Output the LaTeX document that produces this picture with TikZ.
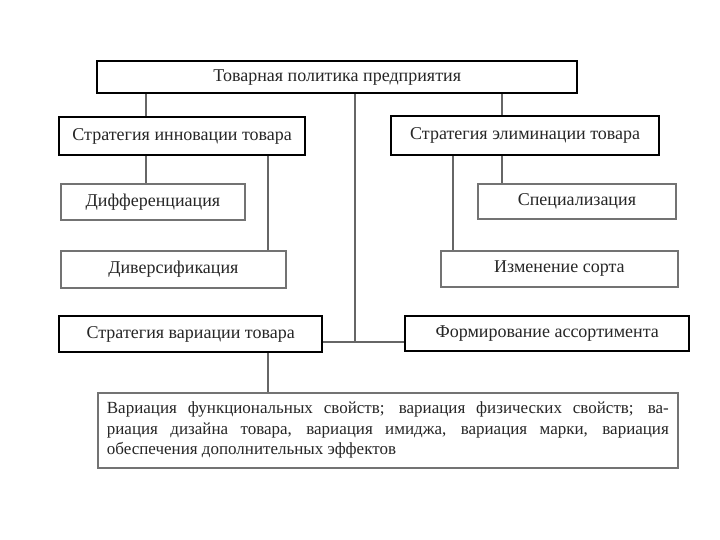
\documentclass[tikz,border=0pt]{standalone}
\usepackage{fontspec}
\setmainfont{Liberation Serif}
\usetikzlibrary{positioning}

\begin{document}
\begin{tikzpicture}[
  x=1pt, y=-1pt,
  % thick frames for the strategies, thin grey frames for what hangs below them
  box/.style={draw=black, line width=2.4pt, fill=white, anchor=north west,
              inner sep=0pt, font=\fontsize{18}{20}\selectfont, text=black!85},
  boxg/.style={box, draw=black!55, line width=1.8pt},
  link/.style={draw=black!60, line width=1.6pt}
]
\useasboundingbox (0,0) rectangle (720,540);

\node[box, minimum width=480pt, minimum height=32pt] (policy) at (96,60) {Товарная политика предприятия};
\node[box, minimum width=246pt, minimum height=38pt] (innov) at (58,116) {Стратегия инновации товара};
\node[box, minimum width=268pt, minimum height=39pt] (elim) at (390,115) {Стратегия элиминации товара};
\node[boxg, minimum width=184pt, minimum height=36pt] (diff) at (60,183) {Дифференциация};
\node[boxg, minimum width=198pt, minimum height=35pt] (spec) at (477,183) {Специализация};
\node[boxg, minimum width=225pt, minimum height=37pt] (divers) at (60,250) {Диверсификация};
\node[boxg, minimum width=237pt, minimum height=36pt] (sort) at (440,250) {Изменение сорта};
\node[box, minimum width=263pt, minimum height=36pt] (var) at (58,315) {Стратегия вариации товара};
\node[box, minimum width=284pt, minimum height=35pt] (assort) at (404,315) {Формирование ассортимента};
\node[boxg, text width=562pt, inner xsep=9pt, inner ysep=8pt, minimum height=75pt,
      align=justify, font=\fontsize{17}{20.5}\selectfont] (detail) at (97,392)
  {Вариация функциональных свойств; вариация физических свойств; ва-\linebreak
   риация дизайна товара, вариация имиджа, вариация марки, вариация\linebreak
   обеспечения дополнительных эффектов};

\coordinate (hub) at (355,342);
\draw[link] (policy.south -| hub) -- (hub);
\draw[link] (var.east |- hub) -- (assort.west |- hub);
\foreach \a/\b/\x in {policy/innov/146, policy/elim/502, innov/diff/146, innov/divers/268,
                      elim/sort/453, elim/spec/502, var/detail/268}
  \draw[link] (\a.south -| \x,0) -- (\b.north -| \x,0);
\end{tikzpicture}
\end{document}
